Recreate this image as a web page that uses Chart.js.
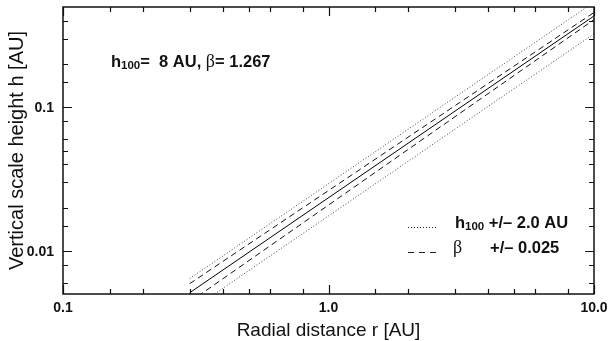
<!DOCTYPE html>
<html>
<head>
<meta charset="utf-8">
<script src="https://cdn.jsdelivr.net/npm/chart.js@4/dist/chart.umd.min.js"></script>
<style>
  html, body { margin: 0; padding: 0; background: #fff; }
</style>
</head>
<body>
<canvas id="grafico-altura" width="609" height="341"></canvas>
<script>
// Valores (extremos de cada reta, em r = 0.3 e r = 10 AU)
const raios = [0.3, 10];
const hCentral = [0.0051, 0.433];
const hMaisH100 = [0.0064, 0.54];
const hMenosH100 = [0.0038, 0.325];
const hMaisBeta = [0.0059, 0.458];
const hMenosBeta = [0.0044, 0.408];

// Marcas dos eixos
const xMaiores = [0.1, 1, 10];
const xRotulos = ['0.1', '1.0', '10.0'];
const xMenores = [0.15, 0.2, 0.3, 0.4, 0.5, 0.6, 0.8, 1.5, 2, 3, 4, 5, 6, 8];
const yMaiores = [0.01, 0.1];
const yRotulos = ['0.01', '0.1'];
const yMenores = [0.006, 0.008, 0.015, 0.02, 0.03, 0.04, 0.05, 0.06, 0.08, 0.15, 0.2, 0.3, 0.4];

const SANS = '"Liberation Sans", Arial, Helvetica, sans-serif';
const SERIF = '"Liberation Serif", "Times New Roman", serif';

function pontos(valores) {
    return raios.map((r, i) => ({ x: r, y: valores[i] }));
}

function serie(valores, dash, cor) {
    return {
        data: pontos(valores),
        borderColor: cor,
        borderWidth: 1,
        borderDash: dash,
        pointRadius: 0,
        fill: false,
    };
}

// Texto com subscrito "100" e beta em fonte serifada
function escreverPartes(ctx, x, y, partes) {
    let pos = x;
    partes.forEach(p => {
        ctx.font = p.font;
        ctx.fillText(p.t, pos, y + (p.dy || 0));
        pos += ctx.measureText(p.t).width;
    });
}

const molduraPlugin = {
    id: 'moldura',
    afterDraw(chart) {
        const ctx = chart.ctx;
        const a = chart.chartArea;
        const sx = chart.scales.x;
        const sy = chart.scales.y;
        ctx.save();
        ctx.strokeStyle = '#111';
        ctx.lineWidth = 1.5;
        ctx.strokeRect(a.left, a.top, a.right - a.left, a.bottom - a.top);

        // Marcas para dentro, nos quatro lados
        ctx.lineWidth = 1.2;
        ctx.beginPath();
        const marcaX = (v, len) => {
            const px = Math.round(sx.getPixelForValue(v)) + 0.5;
            ctx.moveTo(px, a.bottom); ctx.lineTo(px, a.bottom - len);
            ctx.moveTo(px, a.top); ctx.lineTo(px, a.top + len);
        };
        const marcaY = (v, len) => {
            const py = Math.round(sy.getPixelForValue(v)) + 0.5;
            ctx.moveTo(a.left, py); ctx.lineTo(a.left + len, py);
            ctx.moveTo(a.right, py); ctx.lineTo(a.right - len, py);
        };
        xMaiores.forEach(v => marcaX(v, 9));
        xMenores.forEach(v => marcaX(v, 5));
        yMaiores.forEach(v => marcaY(v, 9));
        yMenores.forEach(v => marcaY(v, 5));
        ctx.stroke();

        // Rótulos das marcas
        ctx.fillStyle = '#111';
        ctx.font = 'bold 14px ' + SANS;
        ctx.textAlign = 'center';
        ctx.textBaseline = 'middle';
        xMaiores.forEach((v, i) => {
            ctx.fillText(xRotulos[i], sx.getPixelForValue(v), a.bottom + 14);
        });
        ctx.textAlign = 'right';
        yMaiores.forEach((v, i) => {
            ctx.fillText(yRotulos[i], a.left - 9, sy.getPixelForValue(v) + 1);
        });

        // Títulos dos eixos
        ctx.font = '19px ' + SANS;
        ctx.textAlign = 'center';
        ctx.fillText('Radial distance r [AU]', (a.left + a.right) / 2, 331);
        ctx.save();
        ctx.translate(17, (a.top + a.bottom) / 2);
        ctx.rotate(-Math.PI / 2);
        ctx.font = '20px ' + SANS;
        ctx.fillText('Vertical scale height h [AU]', 0, 0);
        ctx.restore();

        // Anotação dos parâmetros
        ctx.textAlign = 'left';
        ctx.textBaseline = 'alphabetic';
        const B = 'bold 16.5px ' + SANS;
        const S = 'bold 11.5px ' + SANS;
        escreverPartes(ctx, 111, 67, [
            { t: 'h', font: B },
            { t: '100', font: S, dy: 2 },
            { t: '=  8 AU, ', font: B },
            { t: 'β', font: '18px ' + SERIF },
            { t: '= 1.267', font: B },
        ]);

        // Legenda
        ctx.strokeStyle = '#222';
        ctx.lineWidth = 1;
        ctx.setLineDash([1, 2]);
        ctx.beginPath();
        ctx.moveTo(408, 227.5); ctx.lineTo(436, 227.5);
        ctx.stroke();
        ctx.setLineDash([6, 5]);
        ctx.beginPath();
        ctx.moveTo(408, 252.5); ctx.lineTo(436, 252.5);
        ctx.stroke();
        ctx.setLineDash([]);

        escreverPartes(ctx, 455, 228, [
            { t: 'h', font: B },
            { t: '100', font: S, dy: 2 },
            { t: ' +/– 2.0 AU', font: B },
        ]);
        escreverPartes(ctx, 453, 253, [
            { t: 'β', font: '18px ' + SERIF },
        ]);
        escreverPartes(ctx, 490, 253, [
            { t: '+/– 0.025', font: B },
        ]);
        ctx.restore();
    }
};

const ctx = document.getElementById('grafico-altura').getContext('2d');
const chart = new Chart(ctx, {
    type: 'line',
    data: {
        datasets: [
            serie(hMaisH100, [1, 2], '#444'),
            serie(hMenosH100, [1, 2], '#444'),
            serie(hMaisBeta, [6, 4], '#111'),
            serie(hMenosBeta, [6, 4], '#111'),
            serie(hCentral, [], '#000'),
        ],
    },
    options: {
        responsive: false,
        animation: false,
        devicePixelRatio: 1,
        layout: { padding: { left: 63, right: 15, top: 7, bottom: 47 } },
        scales: {
            x: { type: 'logarithmic', min: 0.1, max: 10, display: false },
            y: { type: 'logarithmic', min: 0.005, max: 0.5, display: false },
        },
        plugins: {
            legend: { display: false },
            tooltip: { enabled: false },
        },
    },
    plugins: [molduraPlugin],
});
</script>
</body>
</html>
